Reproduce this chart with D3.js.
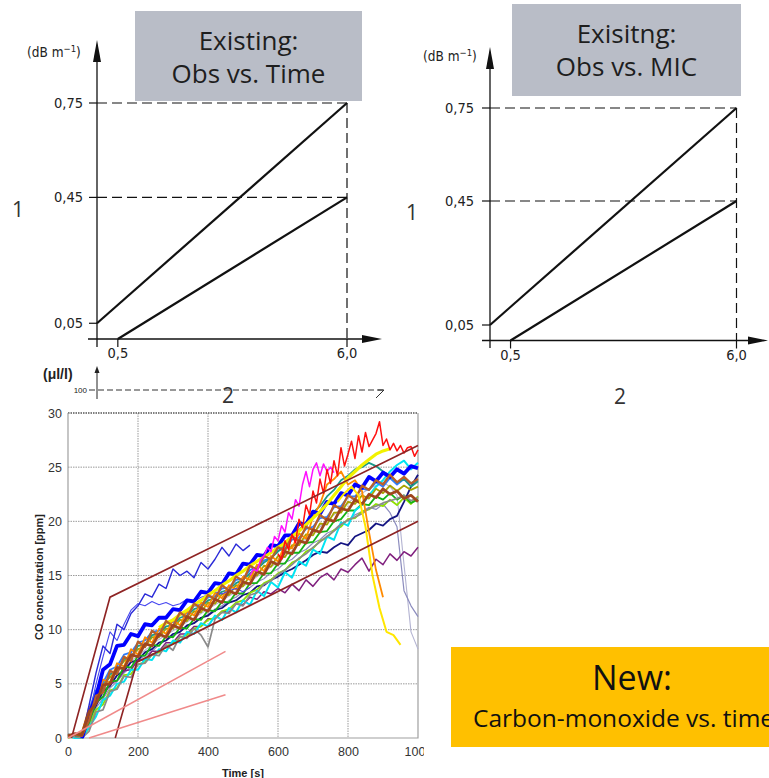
<!DOCTYPE html>
<html>
<head>
<meta charset="utf-8">
<script src="https://cdn.jsdelivr.net/npm/d3@7"></script>
<style>
body { margin: 0; background: #fff; }
svg { display: block; }
</style>
</head>
<body>
<div id="chart"></div>
<script>
// limit diagrams (top)
const limitTicksX = [0.5, 6.0];
const limitTicksY = [0.05, 0.45, 0.75];
const upperLimit = [[0, 0.05], [6.0, 0.75]];
const lowerLimit = [[0.5, 0], [6.0, 0.45]];
const panelTitles = [["Existing:", "Obs vs. Time"], ["Exisitng:", "Obs vs. MIC"]];

// CO chart (bottom)
const coTicksX = [0, 200, 400, 600, 800, 1000];
const coTicksY = [0, 5, 10, 15, 20, 25, 30];
const coUpperBand = [[10, 0], [120, 13], [1000, 27]];
const coLowerBand = [[135, 0], [197, 7], [1000, 20]];
const pinkHigh = [[0, 0], [450, 8]];
const pinkLow = [[60, 0], [450, 4]];

// CO traces [ppm], sampled every `step` s from `t0`
const brownA = [0.2, 0.4, 0.3, 2.4, 3.2, 4.9, 5.0, 6.5, 6.4, 7.7, 7.5, 8.7, 8.5, 9.6, 9.3, 10.4, 10.1, 11.2, 10.9, 12.0, 11.7, 12.8, 12.5, 13.6, 13.3, 14.4, 14.2, 15.4, 15.1, 16.3, 16.0, 17.2, 17.0, 18.2, 18.0, 19.2, 19.0, 20.2, 20.0, 21.2, 21.0, 22.0, 21.6, 22.5, 22.2, 23.0, 22.5, 22.8, 22.1, 22.4, 21.8];
const brownB = [0.1, 0.3, 0.2, 1.6, 3.9, 4.2, 6.2, 5.9, 7.5, 7.1, 8.9, 8.4, 9.9, 9.4, 10.8, 10.3, 11.6, 11.1, 12.4, 12.0, 13.2, 12.8, 14.1, 13.6, 14.9, 14.5, 15.9, 15.5, 16.8, 16.5, 17.6, 17.3, 18.6, 18.2, 19.5, 19.2, 20.6, 20.1, 21.5, 21.1, 22.4, 22.0, 23.3, 22.9, 23.8, 23.4, 24.3, 23.6, 24.1, 23.5, 23.9];
const orange = [0.5, 2.8, 3.4, 5.4, 5.1, 6.9, 6.6, 8.2, 7.7, 9.3, 8.8, 10.1, 9.6, 10.9, 10.4, 11.7, 11.3, 12.5, 12.1, 13.4, 12.9, 14.1, 13.7, 14.9, 14.6, 16.0, 15.4, 16.8, 16.3, 17.9, 17.5, 18.9, 18.4, 20.4, 21.6, 23.4, 23.9, 24.6, 23.4, 23.8, 22.8, 19.0, 15.5, 13.0];
const green = [0.3, 0.1, 0.2, 1.4, 3.3, 3.8, 5.2, 5.3, 6.6, 6.5, 7.6, 7.6, 8.6, 8.5, 9.4, 9.3, 10.2, 10.1, 11.0, 10.9, 11.8, 11.7, 12.6, 12.5, 13.4, 13.3, 14.3, 14.3, 15.2, 15.2, 16.1, 16.1, 17.1, 17.1, 18.0, 18.1, 19.0, 19.1, 20.0, 20.2, 21.0, 21.0, 21.6, 21.5, 22.3, 22.0, 22.6, 22.0, 22.4, 21.7, 22.0];
const lightGreen = [0.0, 0.2, 0.0, 0.9, 2.6, 3.1, 4.4, 4.6, 5.8, 5.9, 6.8, 7.0, 7.7, 7.9, 8.5, 8.7, 9.3, 9.5, 10.1, 10.3, 10.9, 11.1, 11.7, 11.9, 12.5, 12.7, 13.4, 13.7, 14.3, 14.6, 15.2, 15.5, 16.2, 16.5, 17.2, 17.5, 18.2, 18.5, 19.2, 19.5, 20.2, 20.3, 20.9, 21.1, 21.6, 21.4, 22.0, 21.5, 22.2, 21.6, 22.3];
const cyan = [0.2, 0.0, 0.0, 1.0, 2.0, 3.5, 3.9, 5.0, 5.2, 6.3, 6.3, 7.3, 7.2, 8.2, 8.0, 9.0, 8.8, 9.8, 9.6, 10.6, 10.3, 11.3, 10.9, 12.0, 11.6, 12.7, 12.3, 13.6, 13.1, 14.4, 13.9, 15.3, 14.8, 16.3, 15.9, 17.4, 17.0, 18.6, 18.3, 19.9, 19.6, 21.0, 21.5, 22.4, 23.2, 23.8, 24.6, 25.2, 25.6, 24.8, 25.4];
const teal = [0.2, 0.3, 2.0, 3.8, 4.4, 5.9, 6.1, 7.3, 7.4, 8.5, 8.6, 9.5, 9.6, 10.3, 10.4, 11.1, 11.3, 11.9, 12.1, 12.7, 12.9, 13.5, 13.7, 14.3, 14.6, 15.2, 15.6, 16.2, 16.6, 17.2, 17.8, 18.5, 19.2, 19.9, 20.8, 21.4, 22.3, 22.9, 23.8, 24.2, 24.8, 25.0, 25.4, 25.1, 24.6, 24.2, 23.6, 23.9, 23.2, 23.7];
const gray = [0.4, 0.1, 0.0, 0.6, 2.4, 2.6, 4.3, 4.5, 5.7, 5.6, 6.8, 6.9, 7.7, 7.6, 8.6, 8.1, 9.4, 9.2, 10.1, 9.5, 8.4, 11.0, 11.6, 11.5, 12.4, 12.2, 13.2, 13.4, 14.2, 14.5, 15.1, 15.5, 16.0, 16.6, 17.0, 17.6, 18.1, 18.6, 19.1, 19.7, 20.1, 20.4, 20.7, 21.2, 21.4, 21.7, 21.9, 22.1, 22.4, 21.9, 22.2];
const olive = [0.3, 0.6, 2.5, 3.6, 5.0, 5.6, 6.3, 7.1, 7.5, 8.2, 8.4, 9.3, 9.3, 10.1, 10.1, 10.9, 10.8, 11.7, 11.6, 12.5, 12.4, 13.3, 13.2, 14.1, 14.0, 15.0, 15.0, 15.9, 15.8, 16.8, 16.7, 17.8, 17.8, 18.8, 18.7, 19.8, 19.7, 20.8, 20.8, 21.8, 21.6, 22.4, 22.1, 23.0, 22.6, 23.3, 22.8, 23.3, 22.9, 23.2];
const skyBlue = [0.4, 2.6, 4.4, 5.1, 6.3, 6.6, 7.7, 7.9, 8.8, 9.0, 9.8, 9.9, 10.6, 10.7, 11.4, 11.5, 12.2, 12.3, 13.0, 13.1, 13.8, 13.9, 14.6, 14.7, 15.5, 15.8, 16.4, 16.6, 17.3, 17.5, 18.3, 18.5, 19.3, 19.5, 20.3, 20.4, 21.3, 21.4, 22.3, 22.3, 23.0, 22.9, 23.6, 23.2, 24.0, 23.4, 23.9, 23.5, 23.8];
const navy = [0.1, 1.8, 3.0, 4.3, 4.8, 5.8, 6.2, 7.0, 7.2, 7.9, 8.2, 8.8, 9.0, 9.6, 9.8, 10.4, 10.6, 11.1, 11.3, 11.8, 12.0, 12.5, 12.7, 13.2, 13.4, 14.0, 14.1, 14.6, 14.9, 15.3, 15.6, 16.0, 16.4, 16.9, 17.2, 17.1, 17.6, 18.0, 17.8, 18.6, 18.9, 19.2, 19.8, 19.6, 20.2, 20.5, 21.8, 23.2, 24.3];
const purple = [0.2, 0.0, 1.5, 3.2, 3.8, 5.0, 5.3, 6.2, 6.3, 7.2, 7.2, 8.0, 8.0, 8.8, 8.8, 9.6, 9.6, 10.3, 10.3, 11.0, 11.0, 11.7, 11.6, 12.4, 12.3, 13.0, 12.8, 13.5, 13.3, 13.8, 13.4, 14.2, 13.6, 14.6, 14.0, 14.8, 15.2, 14.6, 15.6, 15.3, 16.0, 16.6, 15.4, 16.5, 16.0, 17.0, 16.4, 17.2, 16.8, 17.6];
const grayDrop1 = [0.0, 1.2, 2.8, 3.6, 4.6, 5.2, 6.0, 6.6, 7.2, 7.6, 8.0, 8.6, 9.0, 9.4, 9.8, 10.3, 10.6, 11.1, 11.4, 11.9, 12.2, 12.7, 13.0, 13.5, 13.9, 14.4, 14.7, 15.3, 15.6, 16.2, 16.5, 17.1, 17.4, 18.0, 18.3, 18.9, 19.2, 19.8, 20.1, 20.6, 20.9, 21.3, 21.1, 21.6, 20.8, 19.5, 13.6, 12.2, 11.2];
const grayDrop2 = [0.2, 1.6, 3.0, 4.2, 5.0, 5.7, 6.4, 7.1, 7.6, 8.1, 8.6, 9.1, 9.5, 9.9, 10.3, 10.7, 11.1, 11.5, 11.9, 12.3, 12.7, 13.1, 13.5, 14.0, 14.4, 14.9, 15.3, 15.8, 16.2, 16.8, 17.3, 17.9, 18.4, 19.0, 19.5, 20.1, 20.6, 21.2, 21.7, 22.2, 22.6, 23.0, 23.3, 23.6, 23.2, 22.4, 16.0, 9.8, 8.2];
const blueThick = [0.0, 2.2, 3.8, 6.3, 6.8, 8.5, 8.6, 9.6, 9.4, 10.5, 10.4, 11.1, 11.1, 11.9, 11.8, 12.7, 12.6, 13.5, 13.4, 14.3, 14.2, 15.2, 15.1, 16.1, 16.0, 16.9, 16.8, 17.8, 17.7, 18.7, 18.7, 19.8, 19.7, 20.9, 20.7, 21.8, 21.6, 22.6, 22.4, 23.4, 23.1, 24.1, 23.7, 24.5, 24.1, 24.8, 24.4, 25.1, 24.9];
const blueHigh = [0.0, 3.0, 6.0, 8.5, 7.8, 10.5, 10.0, 11.5, 12.2, 13.3, 13.0, 14.2, 13.8, 15.6, 15.0, 15.4, 14.8, 16.2, 15.6, 16.5, 17.6, 16.8, 17.9, 17.3, 17.8];
const blueThin = [0.0, 2.0, 5.0, 7.5, 9.8, 9.0, 10.5, 11.8, 12.4, 12.2, 12.6, 12.3, 12.5, 12.2, 12.4, 12.8, 12.6, 13.0, 13.2, 13.5, 13.3, 13.6, 13.8, 13.5, 13.9];
const yellowThick = [10.2, 10.6, 10.9, 11.4, 11.8, 12.3, 12.7, 13.2, 13.6, 14.1, 14.5, 15.0, 15.4, 15.9, 16.3, 16.7, 17.1, 17.6, 18.0, 18.6, 19.1, 19.7, 20.3, 20.9, 21.6, 22.4, 23.2, 24.0, 24.6, 25.2, 25.7, 26.2, 26.5, 26.7];
const yellowDrop = [21.8, 22.6, 23.2, 22.4, 19.5, 15.0, 12.0, 9.8, 9.5, 8.6];
const magenta = [15.0, 15.6, 15.4, 16.4, 16.8, 17.6, 17.2, 18.6, 18.2, 19.6, 19.0, 20.8, 20.2, 22.0, 21.4, 23.4, 24.6, 23.2, 24.8, 25.4, 24.2, 25.3, 24.6, 25.0, 24.5];
const red = [17.0, 16.5, 18.2, 17.4, 18.8, 18.0, 20.2, 19.4, 21.5, 20.6, 22.8, 21.7, 23.9, 22.6, 24.8, 23.5, 25.6, 24.2, 26.8, 25.1, 26.2, 27.4, 25.8, 27.9, 26.4, 28.2, 26.9, 27.5, 28.1, 29.2, 27.0, 27.6, 26.6, 27.2, 26.5, 27.0, 26.3, 26.8, 26.9, 26.0, 26.6];

const traces = [
  {name: "grayDrop2", t0: 40, step: 20, values: grayDrop2},
  {name: "grayDrop1", t0: 40, step: 20, values: grayDrop1},
  {name: "navy", t0: 40, step: 20, values: navy},
  {name: "purple", t0: 20, step: 20, values: purple},
  {name: "lightGreen", t0: 0, step: 20, values: lightGreen},
  {name: "green", t0: 0, step: 20, values: green},
  {name: "cyan", t0: 0, step: 20, values: cyan},
  {name: "gray", t0: 0, step: 20, values: gray},
  {name: "olive", t0: 20, step: 20, values: olive},
  {name: "skyBlue", t0: 40, step: 20, values: skyBlue},
  {name: "teal", t0: 20, step: 20, values: teal},
  {name: "orange", t0: 40, step: 20, values: orange},
  {name: "blueThin", t0: 40, step: 20, values: blueThin},
  {name: "blueHigh", t0: 40, step: 20, values: blueHigh},
  {name: "blueThick", t0: 40, step: 20, values: blueThick},
  {name: "yellowThick", t0: 260, step: 20, values: yellowThick},
  {name: "brownB", t0: 0, step: 20, values: brownB},
  {name: "brownA", t0: 0, step: 20, values: brownA},
  {name: "magenta", t0: 520, step: 10, values: magenta},
  {name: "red", t0: 600, step: 10, values: red},
  {name: "yellowDrop", t0: 770, step: 20, values: yellowDrop}
];

const traceStyle = {
  grayDrop2: ["#b4b4d2", 1.1], grayDrop1: ["#8c8cbe", 1.2], navy: ["#141482", 1.8],
  purple: ["#80207e", 1.5], lightGreen: ["#8ee000", 1.8], green: ["#14b414", 1.8],
  cyan: ["#00e4f2", 2], gray: ["#8a8a8a", 1.7], olive: ["#a8a400", 1.8],
  skyBlue: ["#2a7cff", 1.8], teal: ["#1a9a8a", 1.8], orange: ["#ff8a00", 1.8],
  blueThin: ["#4848f0", 1.1], blueHigh: ["#2a2ad8", 1.4], blueThick: ["#0000ff", 3.8],
  yellowThick: ["#f2f200", 3.2], brownB: ["#b8602a", 2.3], brownA: ["#a0461e", 2.8],
  magenta: ["#ff10ff", 1.5], red: ["#ff1010", 1.5], yellowDrop: ["#ffe600", 2]
};

const svg = d3.select("#chart").append("svg")
  .attr("width", 769)
  .attr("height", 778)
  .style("font-family", "'Open Sans', sans-serif");

// ---------- top: two limit diagrams ----------
const panels = [
  {x: [97, 347], y: [339, 103], top: 40, right: 382, left: 88, bottom: 347,
   box: [135, 11, 227, 90], unit: [27, 57], one: [18, 217], two: [228, 403], yLab: 83},
  {x: [490, 736.5], y: [340.5, 108], top: 47, right: 768, left: 482, bottom: 348,
   box: [512, 4, 229, 92], unit: [423, 61], one: [412, 220], two: [620, 404], yLab: 474}
];

const tickFont = "'DejaVu Sans Condensed', 'DejaVu Sans', sans-serif";
const fmt = (v, n) => v.toFixed(n).replace(".", ",");

panels.forEach((p, k) => {
  const g = svg.append("g");
  const x = d3.scaleLinear().domain([0, 6]).range(p.x);
  const y = d3.scaleLinear().domain([0, 0.75]).range(p.y);

  // title box
  g.append("rect")
    .attr("x", p.box[0]).attr("y", p.box[1])
    .attr("width", p.box[2]).attr("height", p.box[3])
    .attr("fill", "#b9bdc7");
  panelTitles[k].forEach((t, i) => {
    g.append("text")
      .attr("x", p.box[0] + p.box[2] / 2)
      .attr("y", p.box[1] + 39 + i * 33)
      .attr("text-anchor", "middle")
      .attr("font-size", 26)
      .attr("fill", "#1e1e1e")
      .text(t);
  });

  // dashed guides
  limitTicksY.filter(v => v > 0.1).forEach(v => {
    g.append("line")
      .attr("x1", x(0)).attr("x2", x(6))
      .attr("y1", y(v)).attr("y2", y(v))
      .attr("stroke", "#111").attr("stroke-width", 1.2)
      .attr("stroke-dasharray", "10,5");
  });
  g.append("line")
    .attr("x1", x(6)).attr("x2", x(6))
    .attr("y1", y(0.75)).attr("y2", y(0))
    .attr("stroke", "#111").attr("stroke-width", 1.2)
    .attr("stroke-dasharray", "10,5");

  // axes with arrows
  g.append("line")
    .attr("x1", x(0)).attr("x2", x(0))
    .attr("y1", p.bottom).attr("y2", p.top + 10)
    .attr("stroke", "#111").attr("stroke-width", 1.3);
  g.append("path")
    .attr("d", `M${x(0)},${p.top}L${x(0) - 4},${p.top + 22}L${x(0) + 4},${p.top + 22}Z`)
    .attr("fill", "#111");
  g.append("line")
    .attr("x1", p.left).attr("x2", p.right - 10)
    .attr("y1", y(0)).attr("y2", y(0))
    .attr("stroke", "#111").attr("stroke-width", 1.3);
  g.append("path")
    .attr("d", `M${p.right},${y(0)}L${p.right - 20},${y(0) - 4}L${p.right - 20},${y(0) + 4}Z`)
    .attr("fill", "#111");

  // ticks
  limitTicksY.forEach(v => {
    g.append("line")
      .attr("x1", x(0) - 8).attr("x2", x(0))
      .attr("y1", y(v)).attr("y2", y(v))
      .attr("stroke", "#111").attr("stroke-width", 1.2);
    g.append("text")
      .attr("x", p.yLab).attr("y", y(v) + 5)
      .attr("text-anchor", "end")
      .attr("font-family", tickFont).attr("font-size", 14.5)
      .attr("fill", "#222")
      .text(fmt(v, 2));
  });
  limitTicksX.forEach(v => {
    g.append("line")
      .attr("x1", x(v)).attr("x2", x(v))
      .attr("y1", y(0)).attr("y2", y(0) + 8)
      .attr("stroke", "#111").attr("stroke-width", 1.2);
    g.append("text")
      .attr("x", x(v)).attr("y", y(0) + 19)
      .attr("text-anchor", "middle")
      .attr("font-family", tickFont).attr("font-size", 14.5)
      .attr("fill", "#222")
      .text(fmt(v, 1));
  });

  // unit
  const u = g.append("text")
    .attr("x", p.unit[0]).attr("y", p.unit[1])
    .attr("font-family", tickFont).attr("font-size", 13.5)
    .attr("fill", "#222");
  u.append("tspan").text("(dB m");
  u.append("tspan").attr("dy", -5).attr("font-size", 9.5).text("−1");
  u.append("tspan").attr("dy", 5).text(")");

  // limit lines
  const line = d3.line().x(d => x(d[0])).y(d => y(d[1]));
  [upperLimit, lowerLimit].forEach(d => {
    g.append("path").datum(d)
      .attr("d", line)
      .attr("fill", "none")
      .attr("stroke", "#111").attr("stroke-width", 2.2);
  });

  g.append("text")
    .attr("x", p.one[0]).attr("y", p.one[1])
    .attr("text-anchor", "middle")
    .attr("font-size", 21)
    .attr("fill", "#333").text("1");
  g.append("text")
    .attr("x", p.two[0]).attr("y", p.two[1])
    .attr("text-anchor", "middle")
    .attr("font-size", 21)
    .attr("fill", "#333").text("2");
});

// ---------- bottom: CO vs time ----------
svg.append("clipPath").attr("id", "coClip")
  .append("rect").attr("x", 0).attr("y", 360).attr("width", 424).attr("height", 418);

const co = svg.append("g").attr("clip-path", "url(#coClip)")
  .style("font-family", "'Liberation Sans', Arial, sans-serif");

// fragment of a figure above the chart
co.append("text")
  .attr("x", 43).attr("y", 379)
  .attr("font-size", 14).attr("font-weight", "bold")
  .attr("fill", "#222").text("(μl/l)");
co.append("line")
  .attr("x1", 97).attr("x2", 97).attr("y1", 399).attr("y2", 370)
  .attr("stroke", "#222").attr("stroke-width", 1);
co.append("path").attr("d", "M97,366L94.5,373L99.5,373Z").attr("fill", "#222");
co.append("text")
  .attr("x", 87).attr("y", 393)
  .attr("text-anchor", "end")
  .attr("font-size", 8).attr("fill", "#222").text("100");
co.append("line")
  .attr("x1", 89).attr("x2", 383).attr("y1", 390).attr("y2", 390)
  .attr("stroke", "#333").attr("stroke-width", 1)
  .attr("stroke-dasharray", "6,3");
co.append("path").attr("d", "M376,398L384,390M378,390L384,390")
  .attr("fill", "none").attr("stroke", "#333").attr("stroke-width", 1);

const cx = d3.scaleLinear().domain([0, 1000]).range([68, 418]);
const cy = d3.scaleLinear().domain([0, 30]).range([738, 413]);

// grid
co.append("g").selectAll("line")
  .data(coTicksX.filter(v => v > 0 && v < 1000))
  .join("line")
  .attr("x1", d => cx(d)).attr("x2", d => cx(d))
  .attr("y1", cy(30)).attr("y2", cy(0))
  .attr("stroke", "#9a9a9a").attr("stroke-width", 1)
  .attr("stroke-dasharray", "1.5,1");
co.append("g").selectAll("line")
  .data(coTicksY.filter(v => v > 0))
  .join("line")
  .attr("x1", cx(0)).attr("x2", cx(1000))
  .attr("y1", d => cy(d)).attr("y2", d => cy(d))
  .attr("stroke", d => d === 30 ? "#555" : "#9a9a9a")
  .attr("stroke-width", d => d === 30 ? 1.4 : 1)
  .attr("stroke-dasharray", "1.5,1");
co.append("path")
  .attr("d", `M${cx(0)},${cy(30)}V${cy(0)}H${cx(1000)}V${cy(30)}`)
  .attr("fill", "none").attr("stroke", "#a0a0a0").attr("stroke-width", 1.2);

// traces
const traceLine = d3.line().x(d => cx(d[0])).y(d => cy(d[1]));
co.append("g").selectAll("path")
  .data(traces)
  .join("path")
  .attr("d", t => traceLine(t.values.map((v, i) => [t.t0 + i * t.step, v])))
  .attr("fill", "none")
  .attr("stroke", t => traceStyle[t.name][0])
  .attr("stroke-width", t => traceStyle[t.name][1])
  .attr("stroke-linejoin", "round");

// envelopes
const bandLine = d3.line().x(d => cx(d[0])).y(d => cy(d[1]));
[coUpperBand, coLowerBand].forEach(d => {
  co.append("path").datum(d).attr("d", bandLine)
    .attr("fill", "none").attr("stroke", "#8e2424").attr("stroke-width", 1.6);
});
[pinkHigh, pinkLow].forEach(d => {
  co.append("path").datum(d).attr("d", bandLine)
    .attr("fill", "none").attr("stroke", "#f08a8a").attr("stroke-width", 1.5);
});

// axes
const xAxis = co.append("g")
  .attr("transform", `translate(0,${cy(0)})`)
  .call(d3.axisBottom(cx).tickValues(coTicksX).tickFormat(d3.format("d")).tickSize(0).tickPadding(9));
const yAxis = co.append("g")
  .attr("transform", `translate(${cx(0)},0)`)
  .call(d3.axisLeft(cy).tickValues(coTicksY).tickFormat(d3.format("d")).tickSize(0).tickPadding(6));
[xAxis, yAxis].forEach(a => {
  a.select(".domain").remove();
  a.selectAll("text")
    .attr("font-family", "'Liberation Sans', Arial, sans-serif")
    .attr("font-size", 12.5).attr("fill", "#333");
});

co.append("text")
  .attr("x", 243).attr("y", 777)
  .attr("text-anchor", "middle")
  .attr("font-size", 11).attr("font-weight", "bold")
  .attr("fill", "#222").text("Time [s]");
co.append("text")
  .attr("transform", "translate(43,577) rotate(-90)")
  .attr("text-anchor", "middle")
  .attr("font-size", 11).attr("font-weight", "bold")
  .attr("fill", "#222").text("CO concentration [ppm]");

// ---------- new-approach label ----------
svg.append("rect")
  .attr("x", 451).attr("y", 647)
  .attr("width", 330).attr("height", 100)
  .attr("fill", "#ffc000");
svg.append("text")
  .attr("x", 632).attr("y", 690)
  .attr("text-anchor", "middle")
  .attr("font-size", 34).attr("fill", "#111")
  .text("New:");
svg.append("text")
  .attr("x", 473).attr("y", 727)
  .attr("font-size", 24.5).attr("fill", "#111")
  .text("Carbon-monoxide vs. time");
</script>
</body>
</html>
